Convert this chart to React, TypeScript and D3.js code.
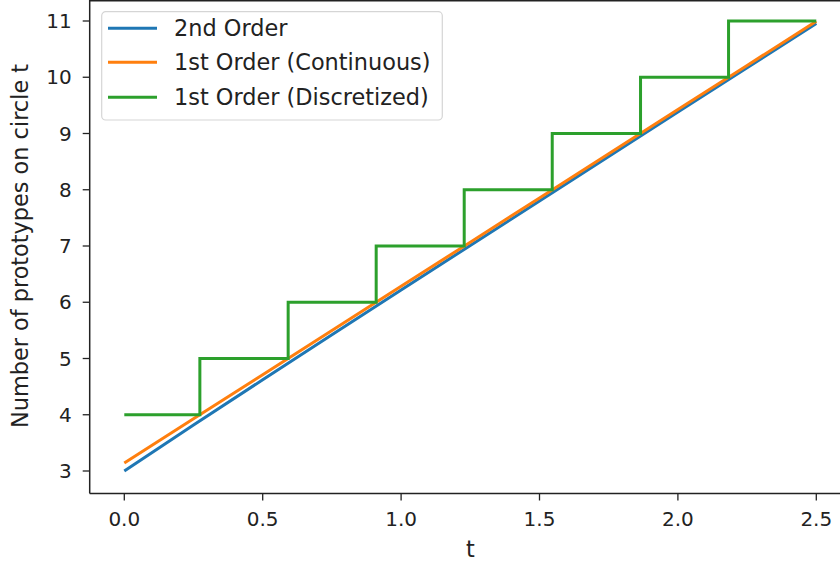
import React from "react";
import * as d3 from "d3";

// Time samples along the circle parameter t
const tValues = [0, 0.25, 0.5, 0.75, 1.0, 1.25, 1.5, 1.75, 2.0, 2.25, 2.5];
// 2nd order estimate of prototypes on circle t
const secondOrder = [3.0, 3.817, 4.622, 5.421, 6.217, 7.01, 7.801, 8.591, 9.381, 10.17, 10.958];
// 1st order, continuous
const firstOrderCont = [3.1416, 3.927, 4.7124, 5.4978, 6.2832, 7.0686, 7.854, 8.6394, 9.4248, 10.2102, 10.9956];
// 1st order, discretized: step start positions and levels
const stepT = [0, 0.273, 0.592, 0.91, 1.228, 1.546, 1.865, 2.183, 2.5];
const stepLevel = [4, 5, 6, 7, 8, 9, 10, 11, 11];

const xTicks = [0.0, 0.5, 1.0, 1.5, 2.0, 2.5];
const yTicks = [3, 4, 5, 6, 7, 8, 9, 10, 11];

const seriesNames = ["2nd Order", "1st Order (Continuous)", "1st Order (Discretized)"];
const seriesColors = ["#1f77b4", "#ff7f0e", "#2ca02c"];

const W = 840;
const H = 563;
const FONT = "DejaVu Sans, sans-serif";
const TICK_FS = 20;
const LABEL_FS = 22.4;

export default function App() {
  const x = d3.scaleLinear().domain([-0.125, 2.625]).range([89.7, 850.9]);
  const y = d3.scaleLinear().domain([2.6, 11.4]).range([493.5, -1.5]);

  const line = d3
    .line<[number, number]>()
    .x((d) => x(d[0]))
    .y((d) => y(d[1]));
  const stepLine = d3
    .line<[number, number]>()
    .x((d) => x(d[0]))
    .y((d) => y(d[1]))
    .curve(d3.curveStepAfter);

  const blue = line(tValues.map((t, i) => [t, secondOrder[i]] as [number, number])) || "";
  const orange = line(tValues.map((t, i) => [t, firstOrderCont[i]] as [number, number])) || "";
  const green = stepLine(stepT.map((t, i) => [t, stepLevel[i]] as [number, number])) || "";

  const left = x(-0.125);
  const bottom = y(2.6);
  const top = y(11.4);

  const legendRows = [28.3, 62.3, 97.3];

  return (
    <svg
      width={W}
      height={H}
      style={{ position: "absolute", left: 0, top: 0, background: "#fff" }}
      fontFamily={FONT}
    >
      <rect x={0} y={0} width={W} height={H} fill="#fff" />

      {/* data lines */}
      <path d={blue} fill="none" stroke={seriesColors[0]} strokeWidth={3} />
      <path d={orange} fill="none" stroke={seriesColors[1]} strokeWidth={3} />
      <path d={green} fill="none" stroke={seriesColors[2]} strokeWidth={3} />

      {/* spines */}
      <line x1={left} x2={left} y1={top} y2={bottom} stroke="#222" strokeWidth={1.5} />
      <line x1={left} x2={W} y1={bottom} y2={bottom} stroke="#222" strokeWidth={1.5} />
      <line x1={left} x2={W} y1={Math.max(top, 0.7)} y2={Math.max(top, 0.7)} stroke="#222" strokeWidth={1.5} />

      {/* y ticks */}
      {yTicks.map((v) => (
        <g key={"y" + v}>
          <line x1={left - 7} x2={left} y1={y(v)} y2={y(v)} stroke="#222" strokeWidth={1.3} />
          <text x={left - 18} y={y(v)} textAnchor="end" dominantBaseline="central" fontSize={TICK_FS} fill="#222">
            {v}
          </text>
        </g>
      ))}

      {/* x ticks */}
      {xTicks.map((v) => (
        <g key={"x" + v}>
          <line x1={x(v)} x2={x(v)} y1={bottom} y2={bottom + 7} stroke="#222" strokeWidth={1.3} />
          <text x={x(v)} y={526} textAnchor="middle" fontSize={TICK_FS} fill="#222">
            {v.toFixed(1)}
          </text>
        </g>
      ))}

      {/* axis labels */}
      <text x={x(1.25)} y={557} textAnchor="middle" fontSize={LABEL_FS} fill="#222">
        t
      </text>
      <text
        transform={`translate(28, ${(top + bottom) / 2}) rotate(-90)`}
        textAnchor="middle"
        fontSize={LABEL_FS}
        fill="#222"
      >
        Number of prototypes on circle t
      </text>

      {/* legend */}
      <rect x={101.7} y={11.7} width={340.6} height={108.3} rx={4} fill="#fff" fillOpacity={0.8} stroke="#d5d5d5" strokeWidth={1.2} />
      {seriesNames.map((name, i) => (
        <g key={name}>
          <line x1={108} x2={157} y1={legendRows[i]} y2={legendRows[i]} stroke={seriesColors[i]} strokeWidth={3} />
          <text x={174} y={legendRows[i]} dominantBaseline="central" fontSize={LABEL_FS} fill="#222">
            {name}
          </text>
        </g>
      ))}
    </svg>
  );
}
